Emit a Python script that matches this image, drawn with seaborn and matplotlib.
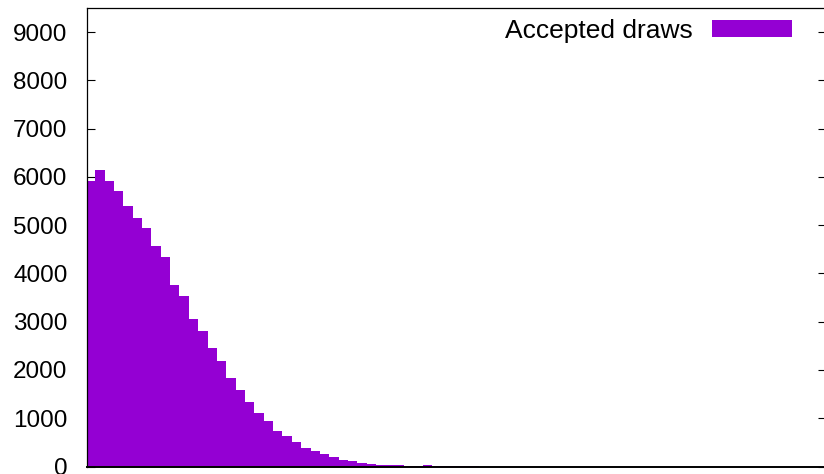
import numpy as np
import pandas as pd
import matplotlib
matplotlib.use("Agg")
import matplotlib.pyplot as plt
from matplotlib.patches import Patch
import seaborn as sns

# Histogram of accepted draws (counts per bin, bin index order)
bin_counts = [5911, 6139, 5911, 5718, 5393, 5159, 4952, 4565, 4344, 3758,
              3530, 3048, 2805, 2447, 2178, 1832, 1578, 1329, 1101, 936,
              729, 631, 507, 383, 321, 252, 190, 128, 107, 66,
              45, 31, 24, 24, 17, 10, 25, 8, 6, 5,
              3, 2]
series_label = "Accepted draws"
y_ticks = [0, 1000, 2000, 3000, 4000, 5000, 6000, 7000, 8000, 9000]

sns.set_style("ticks")
plt.rcParams['font.family'] = ['Liberation Sans', 'DejaVu Sans']

W, H = 824, 474
fig = plt.figure(figsize=(W / 100, H / 100), dpi=100)
left_px, right_px, top_px, bottom_px = 87, 826, 8, 466.5
ax = fig.add_axes([left_px / W, (H - bottom_px) / H,
                   (right_px - left_px) / W, (bottom_px - top_px) / H])

color = "#9400D3"
n = len(bin_counts)
df = pd.DataFrame({"bin": np.arange(n) + 0.5, "count": bin_counts})
sns.histplot(data=df, x="bin", weights="count", binwidth=1, binrange=(0, n),
             color=color, alpha=1.0, linewidth=0, edgecolor=color, ax=ax)

# x range in bin units (pixel positions of reference)
x0 = (left_px - 85.9) / 9.36
x1 = (right_px - 85.9) / 9.36
ax.set_xlim(x0, x1)
ax.set_ylim(0, 9500)
ax.set_yticks(y_ticks)
ax.set_yticklabels([str(v) for v in y_ticks])
ax.set_xticks([])
ax.set_xlabel("")
ax.set_ylabel("")

ax.tick_params(axis='y', direction='in', length=5.8, width=0.8, left=True,
               right=True, labelsize=17.5, pad=14, colors='black')
for s in ax.spines.values():
    s.set_visible(True)
    s.set_linewidth(0.9)
    s.set_color('black')
ax.spines['bottom'].set_linewidth(1.4)

leg_fs = 19
handle = Patch(facecolor=color, edgecolor=color, linewidth=0)
leg = ax.legend([handle], [series_label], loc='center right',
                bbox_to_anchor=(792 / W, (H - 31) / H),
                bbox_transform=fig.transFigure, frameon=False,
                markerfirst=False, fontsize=leg_fs, borderpad=0,
                borderaxespad=0, handlelength=80 / (leg_fs * 100 / 72),
                handleheight=16 / (leg_fs * 100 / 72),
                handletextpad=19 / (leg_fs * 100 / 72))
for t in leg.get_texts():
    t.set_color('black')

fig.savefig("out.png", dpi=100)
